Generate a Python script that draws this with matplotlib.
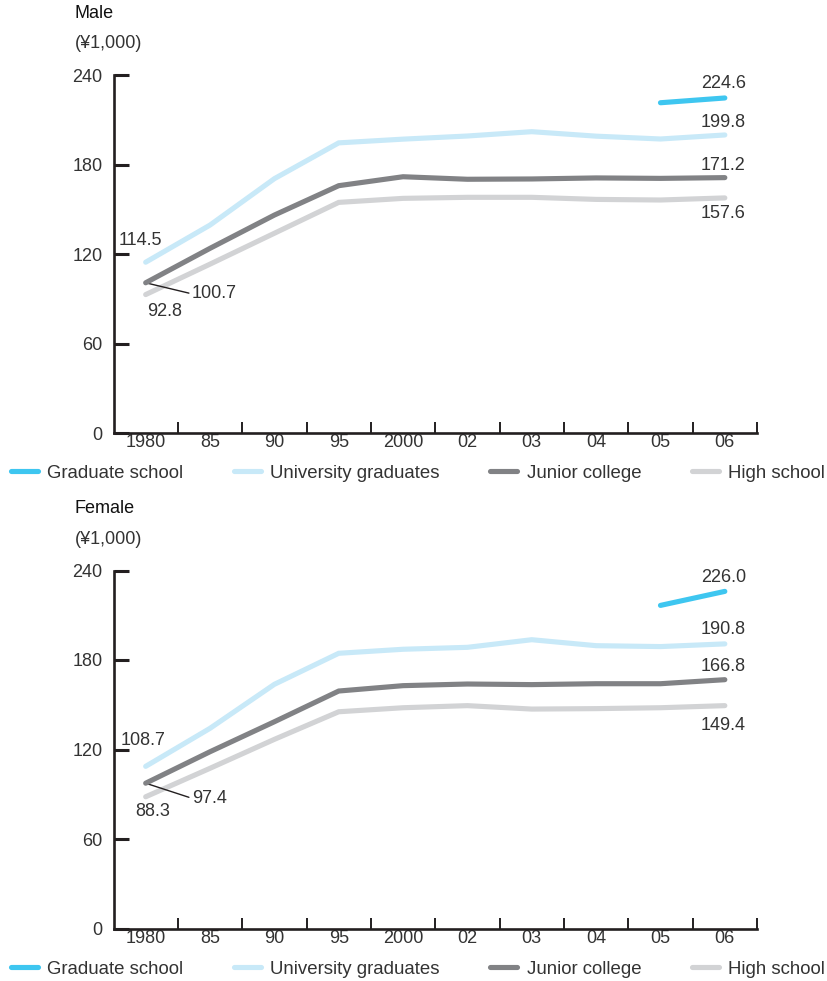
import matplotlib
matplotlib.use("Agg")
import matplotlib.pyplot as plt
from matplotlib.lines import Line2D

plt.rcParams['font.family'] = ['Liberation Sans', 'DejaVu Sans']

# ---- data (¥1,000) ----
years = ['1980', '85', '90', '95', '2000', '02', '03', '04', '05', '06']
series_names = ['Graduate school', 'University graduates', 'Junior college', 'High school']
colors = ['#3ec6f0', '#c8e9f8', '#818285', '#d2d3d5']

male_grad = [None, None, None, None, None, None, None, None, 221.4, 224.6]
male_univ = [114.5, 139.4, 170.5, 194.5, 197.0, 199.1, 202.0, 199.0, 197.1, 199.8]
male_junior = [100.7, 123.8, 146.1, 165.8, 171.8, 170.1, 170.3, 171.0, 170.7, 171.2]
male_high = [92.8, 113.2, 133.9, 154.6, 157.3, 158.0, 158.0, 156.6, 156.2, 157.6]

female_grad = [None, None, None, None, None, None, None, None, 216.6, 226.0]
female_univ = [108.7, 134.2, 163.7, 184.5, 187.2, 188.5, 193.6, 189.6, 189.0, 190.8]
female_junior = [97.4, 118.5, 138.6, 159.2, 162.8, 163.9, 163.5, 164.1, 164.1, 166.8]
female_high = [88.3, 107.4, 126.8, 145.3, 148.0, 149.4, 147.1, 147.4, 148.0, 149.4]

TXT = '#333333'
AX = '#231f20'
FS = 13

fig = plt.figure(figsize=(8.27, 9.81), dpi=100)


def panel(bottom, title, data, right_offsets, left_labels):
    ax = fig.add_axes([113.5 / 827, bottom, 643.5 / 827, 358 / 981])
    x = list(range(len(years)))
    # draw back to front: high school, junior, university, graduate
    for i in [3, 2, 1, 0]:
        xs = [xi for xi, v in zip(x, data[i]) if v is not None]
        ys = [v for v in data[i] if v is not None]
        ax.plot(xs, ys, color=colors[i], lw=3.7, solid_capstyle='round',
                solid_joinstyle='miter', zorder=3 + (3 - i))
    ax.set_xlim(-0.5, len(years) - 0.5)
    ax.set_ylim(0, 240)
    for s in ['top', 'right']:
        ax.spines[s].set_visible(False)
    for s in ['left', 'bottom']:
        ax.spines[s].set_color(AX)
        ax.spines[s].set_linewidth(1.9)
    ax.set_yticks([0, 60, 120, 180, 240])
    ax.tick_params(axis='y', direction='in', length=11, width=2.2, color=AX,
                   labelsize=FS, labelcolor=TXT, pad=8)
    ax.set_xticks(x)
    ax.set_xticklabels(years)
    ax.tick_params(axis='x', which='major', length=0, labelsize=FS, labelcolor=TXT, pad=1)
    ax.set_xticks([k + 0.5 for k in x], minor=True)
    ax.tick_params(axis='x', which='minor', direction='in', length=8, width=1.4, color=AX)
    ax.patch.set_alpha(0)

    # right-end labels at 2006
    for i in range(4):
        v = data[i][-1]
        ax.annotate(f'{v:.1f}', xy=(x[-1], v), xytext=(21, right_offsets[i]),
                    textcoords='offset pixels', ha='right', va='center',
                    fontsize=FS, color=TXT, zorder=10)

    # left labels at 1980
    univ0, jun0, high0 = data[1][0], data[2][0], data[3][0]
    ax.annotate(f'{univ0:.1f}', xy=(0, univ0), xytext=left_labels[0],
                textcoords='offset pixels', ha='left', va='center', fontsize=FS, color=TXT)
    ax.annotate(f'{jun0:.1f}', xy=(0, jun0), xytext=left_labels[1],
                textcoords='offset pixels', ha='left', va='center', fontsize=FS, color=TXT,
                arrowprops=dict(arrowstyle='-', color=AX, lw=1.0, shrinkA=0, shrinkB=0,
                                relpos=(0, 0.5)))
    ax.annotate(f'{high0:.1f}', xy=(0, high0), xytext=left_labels[2],
                textcoords='offset pixels', ha='center', va='center', fontsize=FS, color=TXT)

    top_px = (1 - bottom) * 981 - 358
    fig.text(75 / 827, 1 - (top_px - 62) / 981, title, fontsize=FS, color='#111111',
             ha='left', va='center')
    fig.text(75 / 827, 1 - (top_px - 31) / 981, '(¥1,000)', fontsize=FS, color=TXT,
             ha='left', va='center')
    return ax


panel(1 - 433 / 981, 'Male', [male_grad, male_univ, male_junior, male_high],
      [14, 12, 12, -16], [(-27, 22), (46, -11), (19, -17)])
panel(1 - 928.5 / 981, 'Female', [female_grad, female_univ, female_junior, female_high],
      [14, 14, 13, -20], [(-25, 26), (46, -15), (7, -15)])

# legends
handles = [Line2D([0], [0], color=c, lw=3.7, solid_capstyle='round') for c in colors]
for ypx in [473, 969]:
    fig.legend(handles, series_names, loc='center left',
               bbox_to_anchor=(11 / 827, 1 - ypx / 981), ncol=4, frameon=False,
               fontsize=13.4, labelcolor=TXT, handlelength=1.45, handletextpad=0.5,
               columnspacing=2.72, borderaxespad=0, borderpad=0)

fig.savefig('out.png', dpi=100)
